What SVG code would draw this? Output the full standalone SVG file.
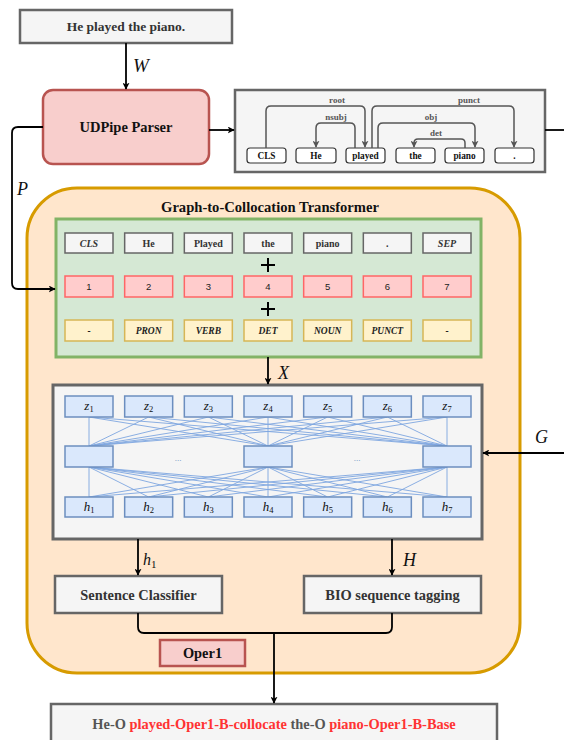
<svg xmlns="http://www.w3.org/2000/svg" width="564" height="740" viewBox="0 0 564 740">
<defs>
<marker id="arr" viewBox="0 0 10 10" refX="9" refY="5" markerWidth="7" markerHeight="7" orient="auto-start-reverse" markerUnits="userSpaceOnUse"><path d="M0,0 L10,5 L0,10 L2.5,5 Z" fill="#000"/></marker>
<marker id="garr" viewBox="0 0 10 10" refX="9" refY="5" markerWidth="7" markerHeight="7" orient="auto" markerUnits="userSpaceOnUse"><path d="M0,0 L10,5 L0,10 L2.5,5 Z" fill="#555"/></marker>
<style>
.gbox{fill:#f5f5f5;stroke:#666;stroke-width:2.5}
.rbox{fill:#f8cecc;stroke:#b85450;stroke-width:2.5}
.tok{fill:#fff;stroke:#333;stroke-width:1.2}
.wt{fill:#f5f5f5;stroke:#666;stroke-width:1.5}
.nt{fill:#ffcccc;stroke:#ff6666;stroke-width:1.5}
.yt{fill:#fff2cc;stroke:#d6b656;stroke-width:1.5}
.bt{fill:#dae8fc;stroke:#6c8ebf;stroke-width:1.5}
.serif{font-family:"Liberation Serif","Times New Roman",serif}
.b{font-weight:bold}
.c{text-anchor:middle}
.t9{font-size:10px;fill:#333}
.num{font-family:"Liberation Sans",Arial,sans-serif;font-size:9.5px;fill:#222}
.tag{font-family:"Liberation Serif",serif;font-size:9.5px;font-weight:bold;font-style:italic;fill:#222}
.dep{font-family:"Liberation Serif",serif;font-size:9.3px;font-weight:bold;fill:#111}
.dl{font-family:"Liberation Serif",serif;font-size:9px;font-weight:bold;fill:#555}
.arc{fill:none;stroke:#555;stroke-width:1.5;marker-end:url(#garr)}
.ln{fill:none;stroke:#000;stroke-width:1.8}
.net{fill:none;stroke:#7ea6e0;stroke-width:0.9}
.math{font-family:"Liberation Serif","Times New Roman",serif;font-style:italic;fill:#111}
.sub{font-style:normal}
</style>
</defs>

<g id="container">
<rect x="27" y="188" width="493" height="485" rx="50" fill="#ffe6cc" stroke="#d79b00" stroke-width="3"/>
<text x="270" y="212" class="serif b c" font-size="14.6" fill="#111">Graph-to-Collocation Transformer</text>
</g>

<g id="input">
<rect x="20" y="10" width="212" height="33" class="gbox"/>
<text x="126" y="31" class="serif b c" font-size="13.5" fill="#333">He played the piano.</text>
</g>

<g id="udpipe">
<rect x="43" y="90" width="166" height="74" rx="10" class="rbox"/>
<text x="126" y="132" class="serif b c" font-size="14.5" fill="#111">UDPipe Parser</text>
</g>

<g id="deptree">
<rect x="235" y="90" width="310" height="82" class="gbox"/>
<rect x="247" y="148" width="39" height="15" rx="3" class="tok"/>
<text x="266.5" y="159" class="dep c">CLS</text>
<rect x="296" y="148" width="40" height="15" rx="3" class="tok"/>
<text x="316" y="159" class="dep c">He</text>
<rect x="346" y="148" width="39" height="15" rx="3" class="tok"/>
<text x="365.5" y="159" class="dep c">played</text>
<rect x="396" y="148" width="39" height="15" rx="3" class="tok"/>
<text x="415.5" y="159" class="dep c">the</text>
<rect x="445" y="148" width="39" height="15" rx="3" class="tok"/>
<text x="464.5" y="159" class="dep c">piano</text>
<rect x="495" y="148" width="39" height="15" rx="3" class="tok"/>
<text x="514.5" y="159" class="dep c">.</text>
<path class="arc" d="M266,148 V111 Q266,106 271,106 H360 Q365,106 365,111 V147"/>
<path class="arc" d="M355,148 V128 Q355,123 350,123 H321 Q316,123 316,128 V147"/>
<path class="arc" d="M372,148 V111 Q372,106 377,106 H509 Q514,106 514,111 V147"/>
<path class="arc" d="M378,148 V128 Q378,123 383,123 H470 Q475,123 475,128 V147"/>
<path class="arc" d="M465,148 V143 Q465,139 461,139 H418 Q414,139 414,143 V147"/>
<text x="337" y="103" class="dl c">root</text>
<text x="336" y="120" class="dl c">nsubj</text>
<text x="469" y="103" class="dl c">punct</text>
<text x="431" y="120" class="dl c">obj</text>
<text x="436" y="136" class="dl c">det</text>
</g>

<g id="embedding">
<rect x="56" y="219" width="425" height="138" fill="#d5e8d4" stroke="#82b366" stroke-width="3"/>
<rect x="65" y="233" width="48" height="20" class="wt"/><text x="89" y="246.5" class="serif b c t9" font-style="italic">CLS</text>
<rect x="124.67" y="233" width="48" height="20" class="wt"/><text x="148.67" y="246.5" class="serif b c t9">He</text>
<rect x="184.33" y="233" width="48" height="20" class="wt"/><text x="208.33" y="246.5" class="serif b c t9">Played</text>
<rect x="244" y="233" width="48" height="20" class="wt"/><text x="268" y="246.5" class="serif b c t9">the</text>
<rect x="303.67" y="233" width="48" height="20" class="wt"/><text x="327.67" y="246.5" class="serif b c t9">piano</text>
<rect x="363.33" y="233" width="48" height="20" class="wt"/><text x="387.33" y="246.5" class="serif b c t9">.</text>
<rect x="423" y="233" width="48" height="20" class="wt"/><text x="447" y="246.5" class="serif b c t9" font-style="italic">SEP</text>

<rect x="65" y="276" width="48" height="21" class="nt"/><text x="89" y="290" class="num c">1</text>
<rect x="124.67" y="276" width="48" height="21" class="nt"/><text x="148.67" y="290" class="num c">2</text>
<rect x="184.33" y="276" width="48" height="21" class="nt"/><text x="208.33" y="290" class="num c">3</text>
<rect x="244" y="276" width="48" height="21" class="nt"/><text x="268" y="290" class="num c">4</text>
<rect x="303.67" y="276" width="48" height="21" class="nt"/><text x="327.67" y="290" class="num c">5</text>
<rect x="363.33" y="276" width="48" height="21" class="nt"/><text x="387.33" y="290" class="num c">6</text>
<rect x="423" y="276" width="48" height="21" class="nt"/><text x="447" y="290" class="num c">7</text>

<rect x="65" y="320" width="48" height="21" class="yt"/><text x="89" y="334" class="tag c">-</text>
<rect x="124.67" y="320" width="48" height="21" class="yt"/><text x="148.67" y="334" class="tag c">PRON</text>
<rect x="184.33" y="320" width="48" height="21" class="yt"/><text x="208.33" y="334" class="tag c">VERB</text>
<rect x="244" y="320" width="48" height="21" class="yt"/><text x="268" y="334" class="tag c">DET</text>
<rect x="303.67" y="320" width="48" height="21" class="yt"/><text x="327.67" y="334" class="tag c">NOUN</text>
<rect x="363.33" y="320" width="48" height="21" class="yt"/><text x="387.33" y="334" class="tag c">PUNCT</text>
<rect x="423" y="320" width="48" height="21" class="yt"/><text x="447" y="334" class="tag c">-</text>
<path d="M268,258 V272 M261,265 H275 M268,302 V316 M261,309 H275" stroke="#000" stroke-width="2" fill="none"/>
</g>

<g id="network">
<rect x="53" y="385" width="429" height="154" fill="#f5f5f5" stroke="#666" stroke-width="3"/>
<path class="net" d="M89,417 L89,446 M89,417 L268,446 M89,417 L447,446
M148.67,417 L89,446 M148.67,417 L268,446 M148.67,417 L447,446
M208.33,417 L89,446 M208.33,417 L268,446 M208.33,417 L447,446
M268,417 L89,446 M268,417 L268,446 M268,417 L447,446
M327.67,417 L89,446 M327.67,417 L268,446 M327.67,417 L447,446
M387.33,417 L89,446 M387.33,417 L268,446 M387.33,417 L447,446
M447,417 L89,446 M447,417 L268,446 M447,417 L447,446
M89,497 L89,467 M89,497 L268,467 M89,497 L447,467
M148.67,497 L89,467 M148.67,497 L268,467 M148.67,497 L447,467
M208.33,497 L89,467 M208.33,497 L268,467 M208.33,497 L447,467
M268,497 L89,467 M268,497 L268,467 M268,497 L447,467
M327.67,497 L89,467 M327.67,497 L268,467 M327.67,497 L447,467
M387.33,497 L89,467 M387.33,497 L268,467 M387.33,497 L447,467
M447,497 L89,467 M447,497 L268,467 M447,497 L447,467"/>
<rect x="65" y="396" width="48" height="21" class="bt"/><text x="89" y="410" class="math c" font-size="13">z<tspan class="sub" font-size="8.5" dy="2">1</tspan></text>
<rect x="124.67" y="396" width="48" height="21" class="bt"/><text x="148.67" y="410" class="math c" font-size="13">z<tspan class="sub" font-size="8.5" dy="2">2</tspan></text>
<rect x="184.33" y="396" width="48" height="21" class="bt"/><text x="208.33" y="410" class="math c" font-size="13">z<tspan class="sub" font-size="8.5" dy="2">3</tspan></text>
<rect x="244" y="396" width="48" height="21" class="bt"/><text x="268" y="410" class="math c" font-size="13">z<tspan class="sub" font-size="8.5" dy="2">4</tspan></text>
<rect x="303.67" y="396" width="48" height="21" class="bt"/><text x="327.67" y="410" class="math c" font-size="13">z<tspan class="sub" font-size="8.5" dy="2">5</tspan></text>
<rect x="363.33" y="396" width="48" height="21" class="bt"/><text x="387.33" y="410" class="math c" font-size="13">z<tspan class="sub" font-size="8.5" dy="2">6</tspan></text>
<rect x="423" y="396" width="48" height="21" class="bt"/><text x="447" y="410" class="math c" font-size="13">z<tspan class="sub" font-size="8.5" dy="2">7</tspan></text>

<rect x="65" y="446" width="48" height="21" class="bt"/>
<rect x="244" y="446" width="48" height="21" class="bt"/>
<rect x="423" y="446" width="48" height="21" class="bt"/>
<text x="178" y="461" class="serif c" font-size="9" fill="#6c8ebf">...</text>
<text x="357" y="461" class="serif c" font-size="9" fill="#6c8ebf">...</text>

<rect x="65" y="497" width="48" height="20" class="bt"/><text x="89" y="511" class="math c" font-size="13">h<tspan class="sub" font-size="8.5" dy="2">1</tspan></text>
<rect x="124.67" y="497" width="48" height="20" class="bt"/><text x="148.67" y="511" class="math c" font-size="13">h<tspan class="sub" font-size="8.5" dy="2">2</tspan></text>
<rect x="184.33" y="497" width="48" height="20" class="bt"/><text x="208.33" y="511" class="math c" font-size="13">h<tspan class="sub" font-size="8.5" dy="2">3</tspan></text>
<rect x="244" y="497" width="48" height="20" class="bt"/><text x="268" y="511" class="math c" font-size="13">h<tspan class="sub" font-size="8.5" dy="2">4</tspan></text>
<rect x="303.67" y="497" width="48" height="20" class="bt"/><text x="327.67" y="511" class="math c" font-size="13">h<tspan class="sub" font-size="8.5" dy="2">5</tspan></text>
<rect x="363.33" y="497" width="48" height="20" class="bt"/><text x="387.33" y="511" class="math c" font-size="13">h<tspan class="sub" font-size="8.5" dy="2">6</tspan></text>
<rect x="423" y="497" width="48" height="20" class="bt"/><text x="447" y="511" class="math c" font-size="13">h<tspan class="sub" font-size="8.5" dy="2">7</tspan></text>
</g>

<g id="classifier">
<rect x="55" y="576" width="167" height="37" class="gbox"/>
<text x="138.5" y="599.5" class="serif b c" font-size="14.4" fill="#333">Sentence Classifier</text>
</g>

<g id="bio">
<rect x="304" y="576" width="177" height="37" class="gbox"/>
<text x="392.5" y="599.5" class="serif b c" font-size="14.4" fill="#333">BIO sequence tagging</text>
</g>

<g id="oper1">
<rect x="160" y="640" width="85" height="26" class="rbox"/>
<text x="202.5" y="658" class="serif b c" font-size="14.4" fill="#111">Oper1</text>
</g>

<g id="output">
<rect x="51" y="704" width="446" height="50" class="gbox"/>
<text x="274" y="729" class="serif b c" font-size="14.4" fill="#555">He-O <tspan fill="#ff3333">played-Oper1-B-collocate</tspan> the-O <tspan fill="#ff3333">piano-Oper1-B-Base</tspan></text>
</g>

<g id="connectors">
<path class="ln" d="M126,43 V89" marker-end="url(#arr)"/>
<text x="133" y="72" class="math" font-size="19">W</text>
<path class="ln" d="M209,130 H234" marker-end="url(#arr)"/>
<path class="ln" d="M545,130 H564"/>
<path class="ln" d="M43,127 H18 Q12,127 12,133 V283 Q12,289 18,289 H55" marker-end="url(#arr)"/>
<text x="17" y="195" class="math" font-size="18">P</text>
<path class="ln" d="M268,357 V384" marker-end="url(#arr)"/>
<text x="278" y="379" class="math" font-size="18">X</text>
<path class="ln" d="M564,453 H483" marker-end="url(#arr)"/>
<text x="535" y="443" class="math" font-size="18">G</text>
<path class="ln" d="M138,539 V575" marker-end="url(#arr)"/>
<text x="143" y="565" class="math" font-size="16">h<tspan class="sub" font-size="11" dy="3">1</tspan></text>
<path class="ln" d="M392,539 V575" marker-end="url(#arr)"/>
<text x="403" y="566" class="math" font-size="18">H</text>
<path class="ln" d="M138,613 V627 Q138,633 144,633 H386 Q392,633 392,627 V613"/>
<path class="ln" d="M274,633 V703" marker-end="url(#arr)"/>
</g>
</svg>
